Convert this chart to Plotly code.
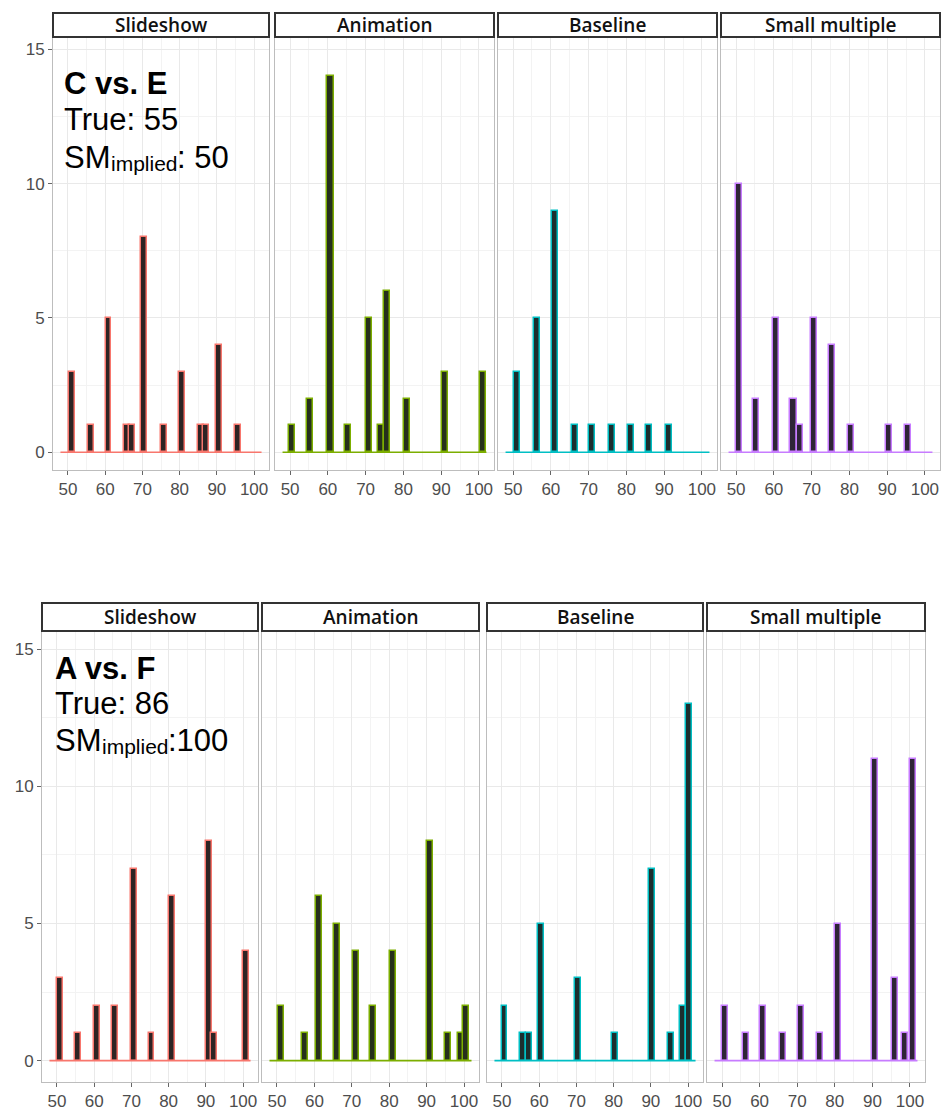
import plotly.graph_objects as go

# ---- data -------------------------------------------------------------
CONDITIONS = ["Slideshow", "Animation", "Baseline", "Small multiple"]
EDGE_COLORS = ["#F8766D", "#7CAE00", "#00BFC4", "#C77CFF"]
FILL_COLORS = ["#2e2424", "#26301c", "#1c2e2e", "#2e2436"]

# pair "C vs. E": bin centres (judged value) and counts per condition
ce_slideshow_x = [51.0, 56.1, 60.9, 65.8, 67.3, 70.5, 75.8, 80.6, 85.7, 87.2, 90.6, 95.6]
ce_slideshow_y = [3, 1, 5, 1, 1, 8, 1, 3, 1, 1, 4, 1]
ce_animation_x = [50.6, 55.3, 60.7, 65.3, 70.8, 74.0, 75.6, 81.0, 91.0, 101.0]
ce_animation_y = [1, 2, 14, 1, 5, 1, 6, 2, 3, 3]
ce_baseline_x = [51.1, 56.4, 61.0, 66.4, 71.0, 76.1, 81.1, 86.1, 91.2]
ce_baseline_y = [3, 5, 9, 1, 1, 1, 1, 1, 1]
ce_small_x = [50.8, 55.3, 60.6, 65.2, 66.8, 70.6, 75.5, 80.5, 90.5, 95.6]
ce_small_y = [10, 2, 5, 2, 1, 5, 4, 1, 1, 1]

# pair "A vs. F"
af_slideshow_x = [50.9, 55.6, 60.8, 65.7, 70.8, 75.4, 80.8, 90.8, 92.3, 100.8]
af_slideshow_y = [3, 1, 2, 2, 7, 1, 6, 8, 1, 4]
af_animation_x = [51.2, 57.6, 61.2, 66.0, 71.1, 75.7, 81.0, 90.9, 95.6, 99.1, 100.6]
af_animation_y = [2, 1, 6, 5, 4, 2, 4, 8, 1, 1, 2]
af_baseline_x = [50.7, 55.6, 57.2, 60.6, 70.5, 80.3, 90.2, 95.4, 98.6, 100.2]
af_baseline_y = [2, 1, 1, 5, 3, 1, 7, 1, 2, 13]
af_small_x = [50.8, 56.5, 61.0, 66.2, 70.9, 76.0, 80.8, 90.8, 95.9, 98.8, 100.7]
af_small_y = [2, 1, 2, 1, 2, 1, 5, 11, 3, 1, 11]

PAIR_LABELS = ["C vs. E", "A vs. F"]
TRUE_VALUES = ["55", "86"]
IMPLIED_VALUES = [": 50", ":100"]

HIST_RANGE = [48.0, 102.0]       # span of the histogram bins (zero bins drawn flat)
X_TICKS = [50, 60, 70, 80, 90, 100]
Y_TICKS = [0, 5, 10, 15]

rows = [
    [(ce_slideshow_x, ce_slideshow_y), (ce_animation_x, ce_animation_y),
     (ce_baseline_x, ce_baseline_y), (ce_small_x, ce_small_y)],
    [(af_slideshow_x, af_slideshow_y), (af_animation_x, af_animation_y),
     (af_baseline_x, af_baseline_y), (af_small_x, af_small_y)],
]

# ---- layout geometry (pixels) ------------------------------------------
W, H = 945, 1112
row_px = [  # plot-area top/bottom, strip top/bottom, y range
    dict(top=37, bottom=470, strip=(13, 37), yrange=[-0.66, 15.46],
         panels=[(53, 269), (275, 494), (498, 717), (721, 940)],
         text_x=62, text_y=[84, 119, 157]),
    dict(top=632, bottom=1082, strip=(603, 631), yrange=[-0.78, 15.63],
         panels=[(42, 258), (262, 479), (487, 703), (707, 925)],
         text_x=53, text_y=[669, 703, 740]),
]
X_RANGE = [46.0, 104.0]
BAR_WIDTH = 1.6

LABEL_FONT = "Liberation Sans, Arial, sans-serif"
BIG, SMALL = 31, 21
SM_WIDTH = 47        # rendered width of "SM" at BIG size
SUB_WIDTH = 66       # rendered width of "implied" at SMALL size

fig = go.Figure()
shapes, annotations = [], []
tick_font = dict(family=LABEL_FONT, size=17, color="#4d4d4d")


def label(text, px, py, size, bold=False):
    return dict(text=f"<b>{text}</b>" if bold else text,
                xref="paper", yref="paper", x=px / W, y=(H - py) / H,
                xanchor="left", yanchor="middle", showarrow=False,
                font=dict(family=LABEL_FONT, size=size, color="black"))


n = 0
for r, row in enumerate(rows):
    geo = row_px[r]
    ydom = [(H - geo["bottom"]) / H, (H - geo["top"]) / H]
    for c, (xs, ys) in enumerate(row):
        n += 1
        xa = "x" if n == 1 else f"x{n}"
        ya = "y" if n == 1 else f"y{n}"
        x0, x1 = geo["panels"][c]
        xdom = [x0 / W, x1 / W]

        # flat zero-count bins along the baseline
        fig.add_trace(go.Scatter(
            x=HIST_RANGE, y=[0, 0], mode="lines",
            line=dict(color=EDGE_COLORS[c], width=1.6),
            xaxis=xa, yaxis=ya, showlegend=False, hoverinfo="skip"))
        fig.add_trace(go.Bar(
            x=xs, y=ys, width=BAR_WIDTH,
            marker=dict(color=FILL_COLORS[c],
                        line=dict(color=EDGE_COLORS[c], width=1.5)),
            xaxis=xa, yaxis=ya, showlegend=False))

        fig.layout[f"xaxis{'' if n == 1 else n}"] = dict(
            domain=xdom, range=X_RANGE, anchor=ya,
            tickmode="array", tickvals=X_TICKS, ticktext=[str(v) for v in X_TICKS],
            ticks="outside", ticklen=4, tickcolor="#666666", tickfont=tick_font,
            showgrid=True, gridcolor="#e9e9e9", gridwidth=1,
            minor=dict(tickmode="array", tickvals=[55, 65, 75, 85, 95],
                       showgrid=True, gridcolor="#f3f3f3", gridwidth=1),
            showline=True, mirror=True, linecolor="#bdbdbd", linewidth=1,
            zeroline=False, automargin=False, fixedrange=True)
        fig.layout[f"yaxis{'' if n == 1 else n}"] = dict(
            domain=ydom, range=geo["yrange"], anchor=xa,
            tickmode="array", tickvals=Y_TICKS,
            ticktext=[str(v) for v in Y_TICKS],
            showticklabels=(c == 0),
            ticks="outside" if c == 0 else "", ticklen=4, tickcolor="#666666",
            tickfont=tick_font,
            showgrid=True, gridcolor="#e9e9e9", gridwidth=1,
            minor=dict(tickmode="array", tickvals=[2.5, 7.5, 12.5],
                       showgrid=True, gridcolor="#f3f3f3", gridwidth=1),
            showline=True, mirror=True, linecolor="#bdbdbd", linewidth=1,
            zeroline=False, automargin=False, fixedrange=True)

        # facet strip
        s0, s1 = geo["strip"]
        shapes.append(dict(type="rect", xref="paper", yref="paper",
                           x0=x0 / W, x1=x1 / W, y0=(H - s1) / H, y1=(H - s0) / H,
                           fillcolor="white", line=dict(color="#333333", width=2)))
        annotations.append(dict(
            text=CONDITIONS[c], xref="paper", yref="paper",
            x=(x0 + x1) / 2 / W, y=(H - (s0 + s1) / 2) / H,
            xanchor="center", yanchor="middle", showarrow=False,
            font=dict(family="Open Sans, sans-serif", size=19, color="#111111",
                      weight=600)))

    # pair label block inside the first panel
    tx = geo["text_x"]
    y_title, y_true, y_sm = geo["text_y"]
    annotations.append(label(PAIR_LABELS[r], tx, y_title, BIG, bold=True))
    annotations.append(label(f"True: {TRUE_VALUES[r]}", tx, y_true, BIG))
    annotations.append(label("SM", tx, y_sm, BIG))
    annotations.append(label("implied", tx + SM_WIDTH, y_sm + 7, SMALL))
    annotations.append(label(IMPLIED_VALUES[r], tx + SM_WIDTH + SUB_WIDTH, y_sm, BIG))

fig.update_layout(
    width=W, height=H, margin=dict(l=0, r=0, t=0, b=0),
    paper_bgcolor="white", plot_bgcolor="white",
    barmode="overlay", bargap=0,
    shapes=shapes, annotations=annotations,
)

fig.write_html("out.html")
